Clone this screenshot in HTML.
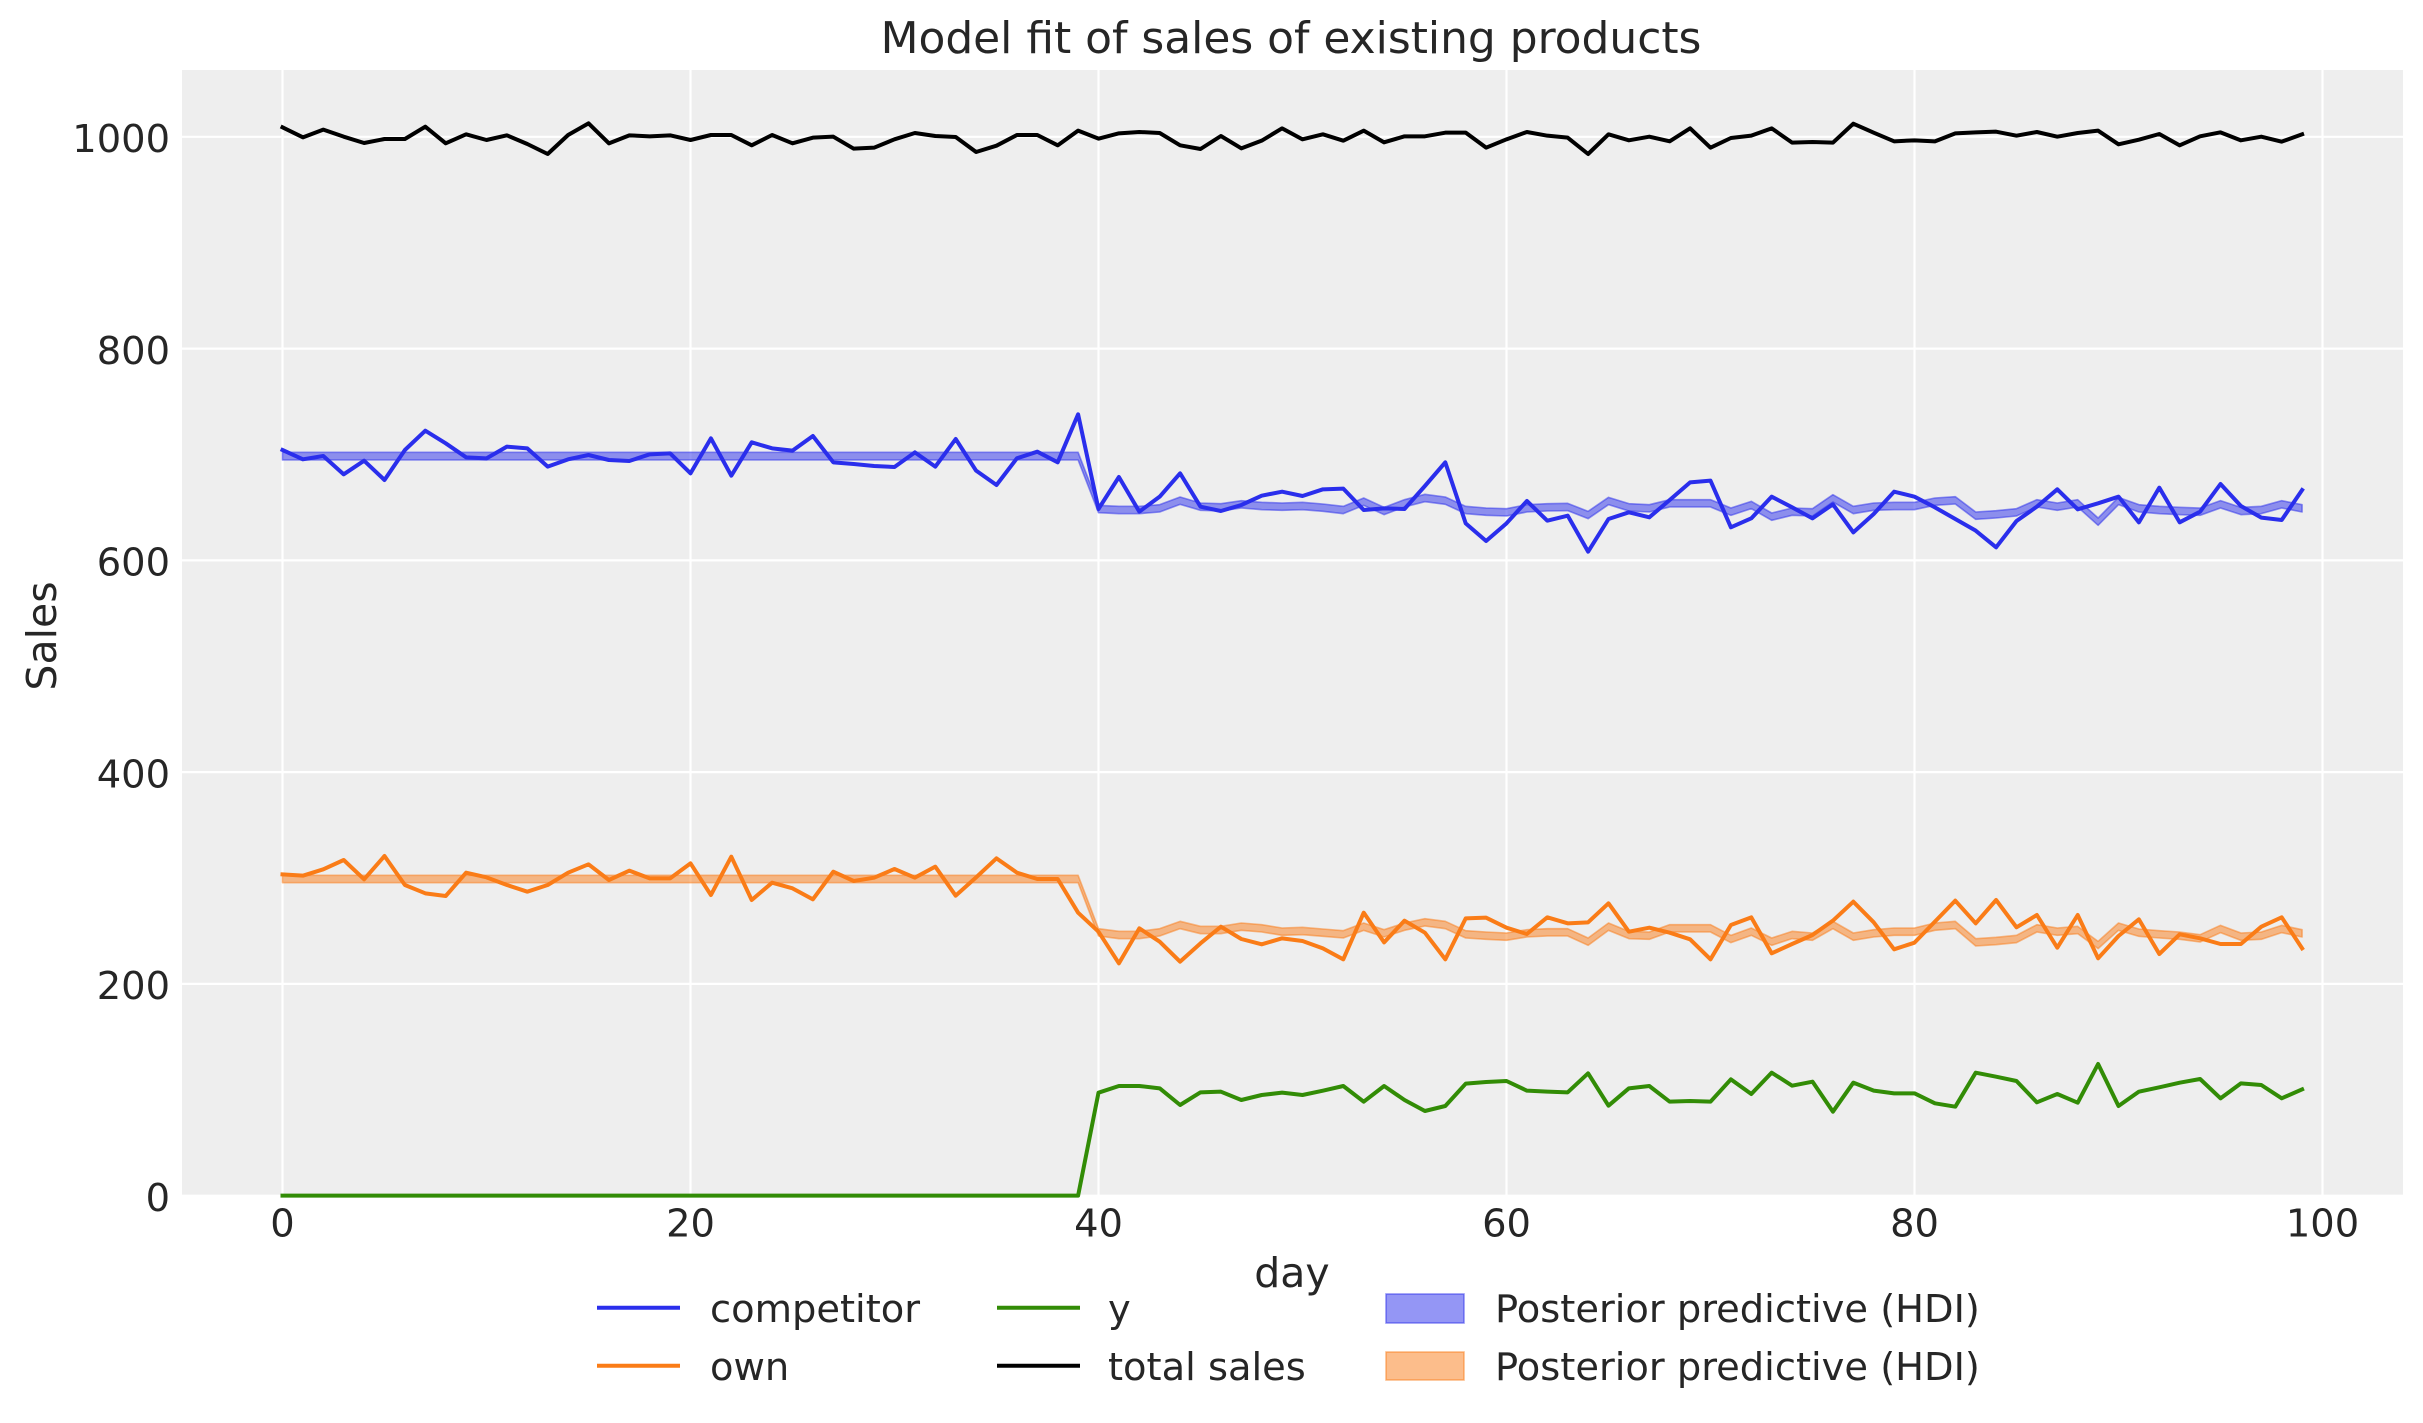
<!DOCTYPE html>
<html><head><meta charset="utf-8"><style>
html,body{margin:0;padding:0;background:#fff;}
svg{display:block;}
text{font-family:"DejaVu Sans","Liberation Sans",sans-serif;fill:#262626;}
</style></head><body>
<svg width="2423" height="1423" viewBox="0 0 2423 1423" xmlns="http://www.w3.org/2000/svg">
<rect x="0" y="0" width="2423" height="1423" fill="#ffffff"/>
<rect x="182" y="70" width="2221" height="1126" fill="#eeeeee"/>
<g stroke="#ffffff" stroke-width="2.2">
<line x1="282.5" y1="70" x2="282.5" y2="1196"/>
<line x1="690.5" y1="70" x2="690.5" y2="1196"/>
<line x1="1098.5" y1="70" x2="1098.5" y2="1196"/>
<line x1="1506.5" y1="70" x2="1506.5" y2="1196"/>
<line x1="1914.5" y1="70" x2="1914.5" y2="1196"/>
<line x1="2322.5" y1="70" x2="2322.5" y2="1196"/>
<line x1="182" y1="1195.7" x2="2403" y2="1195.7"/>
<line x1="182" y1="983.9" x2="2403" y2="983.9"/>
<line x1="182" y1="772.1" x2="2403" y2="772.1"/>
<line x1="182" y1="560.4" x2="2403" y2="560.4"/>
<line x1="182" y1="348.6" x2="2403" y2="348.6"/>
<line x1="182" y1="136.8" x2="2403" y2="136.8"/>
</g>

<g transform="matrix(20.4 0 0 0.333333 282.5 0)">
<polyline fill="none" stroke="#000000" stroke-width="4" stroke-linejoin="round" stroke-linecap="square" vector-effect="non-scaling-stroke" points="0,382 1,412 2,389 3,410 4,429 5,417 6,417 7,380 8,430 9,403 10,420 11,406 12,432 13,462 14,405 15,370 16,430 17,406 18,409 19,406 20,420 21,405 22,405 23,436 24,405 25,430 26,413 27,410 28,446 29,443 30,418 31,399 32,408 33,411 34,456 35,437 36,405 37,405 38,436 39,392 40,416 41,400 42,396 43,399 44,436 45,447 46,408 47,445 48,422 49,385 50,418 51,403 52,422 53,392 54,427 55,409 56,409 57,398 58,398 59,443 60,418 61,396 62,407 63,413 64,462 65,403 66,421 67,410 68,424 69,385 70,443 71,414 72,407 73,385 74,428 75,426 76,428 77,371 78,398 79,424 80,421 81,424 82,400 83,397 84,395 85,407 86,396 87,410 88,399 89,392 90,433 91,419 92,402 93,436 94,409 95,397 96,421 97,410 98,425 99,403"/>
</g>

<g transform="matrix(20.4 0 0 0.333333 282.5 395)">
<polyline fill="none" stroke="#2a2eec" stroke-width="4" stroke-linejoin="round" stroke-linecap="square" vector-effect="non-scaling-stroke" points="0,165 1,193 2,183 3,238 4,197 5,255 6,165 7,107 8,145 9,187 10,190 11,155 12,160 13,215 14,193 15,180 16,195 17,198 18,178 19,175 20,235 21,130 22,242 23,142 24,160 25,167 26,123 27,202 28,207 29,213 30,216 31,172 32,215 33,132 34,227 35,270 36,190 37,170 38,202 39,58 40,342 41,246 42,350 43,305 44,235 45,335 46,348 47,330 48,302 49,290 50,303 51,283 52,281 53,345 54,340 55,342 56,273 57,202 58,385 59,438 60,385 61,318 62,377 63,362 64,470 65,372 66,352 67,367 68,315 69,262 70,257 71,397 72,370 73,305 74,337 75,370 76,328 77,412 78,357 79,290 80,305 81,337 82,372 83,407 84,457 85,378 86,335 87,283 88,343 89,325 90,305 91,382 92,278 93,382 94,350 95,267 96,333 97,368 98,375 99,285"/>
</g>

<g transform="matrix(20.4 0 0 0.333333 282.5 835)">
<polyline fill="none" stroke="#fa7c17" stroke-width="4" stroke-linejoin="round" stroke-linecap="square" vector-effect="non-scaling-stroke" points="0,118 1,122 2,103 3,75 4,133 5,63 6,150 7,175 8,183 9,113 10,127 11,150 12,170 13,150 14,113 15,88 16,135 17,107 18,130 19,130 20,85 21,180 22,65 23,195 24,143 25,160 26,193 27,110 28,138 29,128 30,102 31,128 32,95 33,182 34,127 35,70 36,113 37,132 38,132 39,233 40,290 41,385 42,280 43,320 44,380 45,325 46,275 47,312 48,328 49,310 50,318 51,340 52,373 53,233 54,322 55,257 56,293 57,373 58,250 59,248 60,278 61,297 62,247 63,265 64,262 65,205 66,290 67,278 68,293 69,313 70,373 71,270 72,247 73,355 74,327 75,300 76,257 77,200 78,262 79,343 80,323 81,260 82,197 83,265 84,195 85,277 86,240 87,338 88,240 89,370 90,303 91,253 92,357 93,298 94,310 95,327 96,327 97,275 98,247 99,340"/>
</g>

<g transform="matrix(20.4 0 0 0.333333 282.5 1050)">
<polyline fill="none" stroke="#328c06" stroke-width="4" stroke-linejoin="round" stroke-linecap="square" vector-effect="non-scaling-stroke" points="0,437 39,437 40,128 41,108 42,108 43,115 44,165 45,127 46,125 47,150 48,135 49,128 50,135 51,122 52,108 53,155 54,108 55,150 56,183 57,168 58,101 59,96 60,93 61,122 62,125 63,127 64,70 65,167 66,115 67,108 68,155 69,153 70,155 71,88 72,132 73,68 74,107 75,95 76,185 77,98 78,122 79,130 80,130 81,160 82,170 83,68 84,80 85,93 86,157 87,132 88,158 89,42 90,168 91,125 92,112 93,98 94,87 95,145 96,100 97,105 98,145 99,118"/>
</g>

<g transform="matrix(20.4 0 0 0.333333 282.5 395)">
<polygon fill="#2a2eec" fill-opacity="0.5" stroke="#2a2eec" stroke-opacity="0.5" stroke-width="1.6" stroke-linejoin="round" vector-effect="non-scaling-stroke" points="0,172 39,172 40,331 41,334 42,334 43,329 44,306 45,324 46,326 47,317 48,322 49,324 50,322 51,327 52,334 53,309 54,337 55,314 56,298 57,306 58,334 59,339 60,341 61,329 62,326 63,325 64,349 65,307 66,326 67,329 68,314 69,314 70,314 71,339 72,319 73,354 74,339 75,341 76,299 77,334 78,324 79,322 80,322 81,309 82,305 83,351 84,347 85,341 86,314 87,324 88,314 89,369 90,307 91,329 92,334 93,337 94,339 95,317 96,337 97,334 98,317 99,329 99,351 98,339 97,356 96,359 95,339 94,361 93,359 92,356 91,351 90,329 89,391 88,336 87,346 86,336 85,363 84,369 83,373 82,327 81,331 80,344 79,344 78,346 77,356 76,321 75,363 74,361 73,376 72,341 71,361 70,336 69,336 68,336 67,351 66,348 65,329 64,371 63,347 62,348 61,351 60,363 59,361 58,356 57,328 56,320 55,336 54,359 53,331 52,356 51,349 50,344 49,346 48,344 47,339 46,348 45,346 44,328 43,351 42,356 41,356 40,353 39,195 0,195"/>
</g>

<g transform="matrix(20.4 0 0 0.333333 282.5 835)">
<polygon fill="#fa7c17" fill-opacity="0.5" stroke="#fa7c17" stroke-opacity="0.5" stroke-width="1.6" stroke-linejoin="round" vector-effect="non-scaling-stroke" points="0,121 39,121 40,281 41,289 42,289 43,281 44,259 45,274 46,274 47,264 48,269 49,279 50,277 51,282 52,287 53,264 54,284 55,264 56,251 57,259 58,287 59,291 60,294 61,284 62,281 63,281 64,309 65,264 66,289 67,291 68,269 69,269 70,269 71,301 72,279 73,309 74,289 75,294 76,259 77,294 78,284 79,279 80,279 81,264 82,259 83,311 84,307 85,301 86,269 87,279 88,274 89,319 90,264 91,282 92,287 93,291 94,299 95,271 96,294 97,291 98,271 99,284 99,306 98,293 97,313 96,316 95,293 94,321 93,313 92,309 91,304 90,286 89,341 88,296 87,301 86,291 85,323 84,329 83,333 82,281 81,286 80,301 79,301 78,306 77,316 76,281 75,316 74,311 73,331 72,301 71,323 70,291 69,291 68,291 67,313 66,311 65,286 64,331 63,303 62,303 61,306 60,316 59,313 58,309 57,281 56,273 55,286 54,306 53,286 52,309 51,304 50,299 49,301 48,291 47,286 46,296 45,296 44,281 43,303 42,311 41,311 40,303 39,143 0,143"/>
</g>

<text x="1291" y="53" font-size="43.9" text-anchor="middle">Model fit of sales of existing products</text>

<g font-size="38.4" text-anchor="end">
<text x="170" y="1211">0</text>
<text x="170" y="999">200</text>
<text x="170" y="787.5">400</text>
<text x="170" y="575.5">600</text>
<text x="170" y="364">800</text>
<text x="170" y="152">1000</text>
</g>
<g font-size="38.4" text-anchor="middle">
<text x="282.5" y="1236.5">0</text>
<text x="690.5" y="1236.5">20</text>
<text x="1098.5" y="1236.5">40</text>
<text x="1506.5" y="1236.5">60</text>
<text x="1914.5" y="1236.5">80</text>
<text x="2322.5" y="1236.5">100</text>
</g>

<text x="1292" y="1287" font-size="41" text-anchor="middle">day</text>
<text transform="translate(56 636) rotate(-90)" font-size="41" text-anchor="middle">Sales</text>

<g stroke-width="4" stroke-linecap="square">
<line x1="599" y1="1307.7" x2="678" y2="1307.7" stroke="#2a2eec"/>
<line x1="599" y1="1365.7" x2="678" y2="1365.7" stroke="#fa7c17"/>
<line x1="999" y1="1307.7" x2="1078" y2="1307.7" stroke="#328c06"/>
<line x1="999" y1="1365.7" x2="1078" y2="1365.7" stroke="#000000"/>
</g>
<rect x="1386" y="1294" width="78" height="29" fill="#2a2eec" fill-opacity="0.5" stroke="#2a2eec" stroke-opacity="0.5" stroke-width="1.6"/>
<rect x="1386" y="1352" width="78" height="28" fill="#fa7c17" fill-opacity="0.5" stroke="#fa7c17" stroke-opacity="0.5" stroke-width="1.6"/>
<g font-size="38.4">
<text x="710" y="1322">competitor</text>
<text x="710" y="1380">own</text>
<text x="1108" y="1322">y</text>
<text x="1108" y="1380">total sales</text>
<text x="1495" y="1322">Posterior predictive (HDI)</text>
<text x="1495" y="1380">Posterior predictive (HDI)</text>
</g>
</svg>
</body></html>
